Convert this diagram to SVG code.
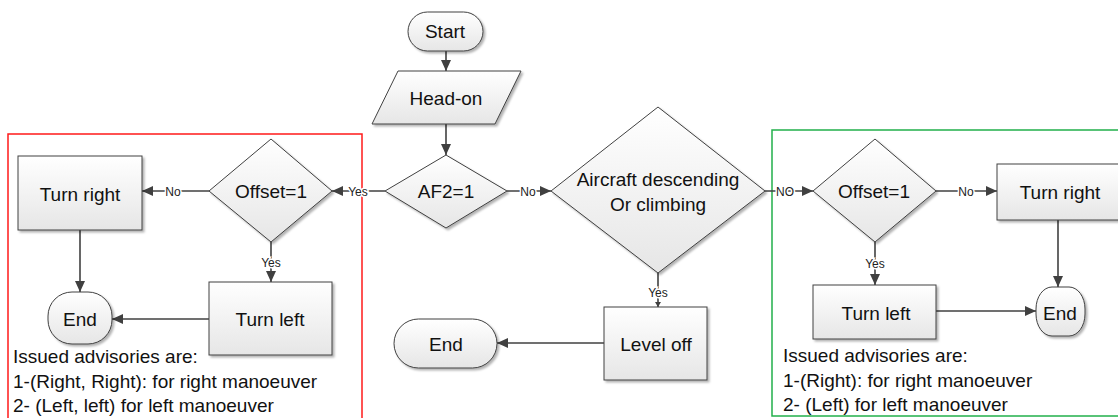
<svg xmlns="http://www.w3.org/2000/svg" width="1118" height="418" viewBox="0 0 1118 418">
  <defs>
    <linearGradient id="shade" x1="0" y1="0" x2="0" y2="1">
      <stop offset="0" stop-color="#ffffff"/>
      <stop offset="1" stop-color="#e6e6e6"/>
    </linearGradient>
    <filter id="drop" x="-10%" y="-10%" width="130%" height="130%">
      <feDropShadow dx="2" dy="2" stdDeviation="1" flood-color="#000" flood-opacity="0.3"/>
    </filter>
    <marker id="arrow" markerUnits="userSpaceOnUse" markerWidth="12" markerHeight="10" refX="11" refY="5" orient="auto">
      <path d="M0,0 L11,5 L0,10 Z" fill="#404040"/>
    </marker>
    <marker id="arrow-sm" markerUnits="userSpaceOnUse" markerWidth="6" markerHeight="6" refX="5" refY="3" orient="auto">
      <path d="M0,0 L5,3 L0,6 Z" fill="#404040"/>
    </marker>
    <style>
      .shape { fill: url(#shade); stroke: #404040; stroke-width: 1; filter: url(#drop); }
      .lbl { font-family: "Liberation Sans", Arial, sans-serif; font-size: 19px; fill: #111; text-anchor: middle; }
      .note { font-family: "Liberation Sans", Arial, sans-serif; font-size: 19px; fill: #111; }
      .edge { fill: none; stroke: #404040; stroke-width: 1.6; marker-end: url(#arrow); }
      .tag { font-family: "Liberation Sans", Arial, sans-serif; font-size: 12px; fill: #222; text-anchor: middle;
             stroke: #fff; stroke-width: 3; paint-order: stroke; }
    </style>
  </defs>

  <!-- grouping frames -->
  <g id="frame-left">
    <rect x="8" y="134" width="354" height="290" fill="none" stroke="#ff1a1a" stroke-width="1.5"/>
  </g>
  <g id="frame-right">
    <rect x="772" y="130" width="360" height="286" fill="none" stroke="#22b04b" stroke-width="1.5"/>
  </g>

  <!-- connectors -->
  <g id="connectors">
    <path class="edge" d="M446,51 V71"/>
    <path class="edge" d="M446,124 V155"/>
    <path class="edge" d="M385,191 H332"/>
    <path class="edge" d="M507,191 H551"/>
    <path class="edge" d="M209,191 H142"/>
    <path class="edge" d="M271,242 V282"/>
    <path class="edge" d="M80,230 V292"/>
    <path class="edge" d="M209,319 H112"/>
    <path class="edge" d="M658,273 V307" style="marker-end:url(#arrow-sm)"/>
    <path class="edge" d="M604,343 H497"/>
    <path class="edge" d="M765,191 H813"/>
    <path class="edge" d="M936,191 H997"/>
    <path class="edge" d="M875,242 V285"/>
    <path class="edge" d="M1058,220 V287"/>
    <path class="edge" d="M936,311 H1036"/>

    <text class="tag" x="358" y="195.5">Yes</text>
    <text class="tag" x="528" y="195.5">No</text>
    <text class="tag" x="173" y="195.5">No</text>
    <text class="tag" x="271" y="267">Yes</text>
    <text class="tag" x="658" y="297">Yes</text>
    <text class="tag" x="785" y="195.5">NO</text>
    <text class="tag" x="966" y="195.5">No</text>
    <text class="tag" x="875" y="268">Yes</text>
  </g>

  <!-- central column -->
  <g id="start">
    <rect class="shape" x="408" y="12" width="75" height="39" rx="19.5"/>
    <text class="lbl" x="445" y="38">Start</text>
  </g>
  <g id="head-on">
    <polygon class="shape" points="398,71 521,71 495,124 372,124"/>
    <text class="lbl" x="446" y="105">Head-on</text>
  </g>
  <g id="af2">
    <polygon class="shape" points="446,155 507,191 446,228 385,191"/>
    <text class="lbl" x="446" y="198">AF2=1</text>
  </g>
  <g id="climb-check">
    <polygon class="shape" points="658,107 765,191 658,273 551,191"/>
    <text class="lbl" x="658" y="186">Aircraft descending</text>
    <text class="lbl" x="658" y="211">Or climbing</text>
  </g>
  <g id="level-off">
    <rect class="shape" x="604" y="307" width="103" height="73"/>
    <text class="lbl" x="656" y="351">Level off</text>
  </g>
  <g id="end-mid">
    <rect class="shape" x="394" y="319" width="103" height="49" rx="24.5"/>
    <text class="lbl" x="446" y="351">End</text>
  </g>

  <!-- left branch -->
  <g id="offset-left">
    <polygon class="shape" points="271,139 332,191 271,242 209,191"/>
    <text class="lbl" x="271" y="198">Offset=1</text>
  </g>
  <g id="turn-right-left">
    <rect class="shape" x="18" y="156" width="124" height="74"/>
    <text class="lbl" x="80" y="201">Turn right</text>
  </g>
  <g id="turn-left-left">
    <rect class="shape" x="209" y="282" width="123" height="73"/>
    <text class="lbl" x="270" y="326">Turn left</text>
  </g>
  <g id="end-left">
    <rect class="shape" x="48" y="292" width="64" height="52" rx="24"/>
    <text class="lbl" x="80" y="326">End</text>
  </g>
  <g id="note-left">
    <text class="note" x="13" y="363">Issued advisories are:</text>
    <text class="note" x="13" y="388">1-(Right, Right): for right manoeuver</text>
    <text class="note" x="13" y="412">2- (Left, left) for left manoeuver</text>
  </g>

  <!-- right branch -->
  <g id="offset-right">
    <polygon class="shape" points="875,139 936,191 875,242 813,191"/>
    <text class="lbl" x="874" y="198">Offset=1</text>
  </g>
  <g id="turn-right-right">
    <rect class="shape" x="997" y="164" width="126" height="56"/>
    <text class="lbl" x="1060" y="199">Turn right</text>
  </g>
  <g id="turn-left-right">
    <rect class="shape" x="813" y="285" width="123" height="54"/>
    <text class="lbl" x="876" y="320">Turn left</text>
  </g>
  <g id="end-right">
    <rect class="shape" x="1036" y="287" width="49" height="49" rx="16" ry="22"/>
    <text class="lbl" x="1060" y="320">End</text>
  </g>
  <g id="note-right">
    <text class="note" x="783" y="362">Issued advisories are:</text>
    <text class="note" x="783" y="387">1-(Right): for right manoeuver</text>
    <text class="note" x="783" y="411">2- (Left) for left manoeuver</text>
  </g>
</svg>
